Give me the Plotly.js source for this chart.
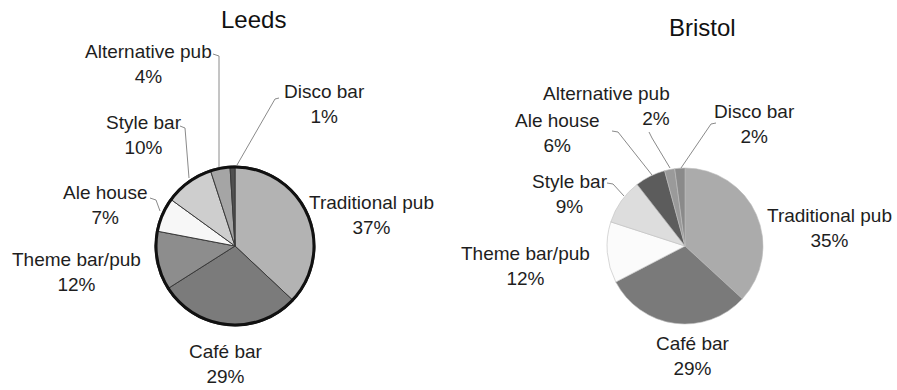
<!DOCTYPE html>
<html>
<head>
<meta charset="utf-8">
<script src="https://cdn.plot.ly/plotly-3.0.1.min.js"></script>
<style>html,body{margin:0;padding:0;background:#fff;}#chart{width:897px;height:390px;}</style>
</head>
<body>
<div id="chart"></div>
<script>
// ---- data ----
var leedsLabels = ['Traditional pub', 'Café bar', 'Theme bar/pub', 'Ale house', 'Style bar', 'Alternative pub', 'Disco bar'];
var leedsValues = [37, 29, 12, 7, 10, 4, 1];
var bristolLabels = ['Traditional pub', 'Café bar', 'Theme bar/pub', 'Style bar', 'Ale house', 'Alternative pub', 'Disco bar'];
var bristolValues = [35, 29, 12, 9, 6, 2, 2];
var cityTitles = ['Leeds', 'Bristol'];

// ---- styles ----
var leedsColors = ['#b3b3b3', '#7b7b7b', '#8d8d8d', '#f7f7f7', '#cecece', '#a5a5a5', '#505050'];
var bristolColors = ['#ababab', '#7a7a7a', '#fbfbfb', '#dddddd', '#5c5c5c', '#9a9a9a', '#8a8a8a'];

var W = 897, H = 390;
function px(x) { return x / W; }
function py(y) { return 1 - y / H; }

// label positions (pixel centres), same order as labels
var leedsLabelPos = [[371, 215], [226, 364], [76, 272], [105, 205], [144, 135], [148, 64], [324, 104]];
var bristolLabelPos = [[829, 228], [693, 356], [525, 266], [570, 194], [557, 133], [606, 106], [754, 124]];
var bristolAlign = ['center', 'center', 'center', 'center', 'center', 'right', 'center'];

// leader lines (pixel polylines)
var leaders = [
  [[213, 54], [219, 56], [219, 168]],
  [[279, 98], [275, 99], [237, 165]],
  [[180, 126], [185, 128], [189, 178]],
  [[150, 198], [156, 200], [160, 211]],
  [[612, 131], [618, 132], [652, 175]],
  [[649, 132], [652, 138], [670, 168]],
  [[716, 123], [711, 124], [681, 168]],
  [[607, 183], [613, 184], [624, 196]]
];

var data = [
  {
    type: 'pie', labels: leedsLabels, values: leedsValues, sort: false,
    direction: 'clockwise', rotation: 0, textinfo: 'none', hoverinfo: 'label+percent',
    marker: { colors: leedsColors, line: { color: '#3a3a3a', width: 1 } },
    domain: { x: [px(155), px(315)], y: [py(326), py(166)] },
    showlegend: false
  },
  {
    type: 'pie', labels: bristolLabels, values: bristolValues, sort: false,
    direction: 'clockwise', rotation: 0, textinfo: 'none', hoverinfo: 'label+percent',
    marker: { colors: bristolColors, line: { color: '#bdbdbd', width: 0.6 } },
    domain: { x: [px(607), px(763)], y: [py(324), py(168)] },
    showlegend: false
  }
];

var font = { family: 'Liberation Sans, Arial, sans-serif', size: 19, color: '#1e1e1e' };
var annotations = [];
leedsLabels.forEach(function (l, i) {
  annotations.push({
    xref: 'paper', yref: 'paper', x: px(leedsLabelPos[i][0]), y: py(leedsLabelPos[i][1]),
    xanchor: 'center', yanchor: 'middle', showarrow: false, align: 'center',
    text: l + '<br>' + leedsValues[i] + '%', font: font
  });
});
bristolLabels.forEach(function (l, i) {
  annotations.push({
    xref: 'paper', yref: 'paper', x: px(bristolLabelPos[i][0]), y: py(bristolLabelPos[i][1]),
    xanchor: 'center', yanchor: 'middle', showarrow: false, align: bristolAlign[i],
    text: l + '<br>' + bristolValues[i] + '%', font: font
  });
});
var titlePos = [[253, 19], [702, 28]];
cityTitles.forEach(function (t, i) {
  annotations.push({
    xref: 'paper', yref: 'paper', x: px(titlePos[i][0]), y: py(titlePos[i][1]),
    xanchor: 'center', yanchor: 'middle', showarrow: false,
    text: t, font: { family: 'Liberation Sans, Arial, sans-serif', size: 24, color: '#111' }
  });
});

var shapes = [];
leaders.forEach(function (pts) {
  var d = pts.map(function (p, k) { return (k ? 'L' : 'M') + px(p[0]) + ',' + py(p[1]); }).join(' ');
  shapes.push({ type: 'path', xref: 'paper', yref: 'paper', path: d, line: { color: '#8a8a8a', width: 1 } });
});
// thick outline round the Leeds pie
shapes.push({ type: 'circle', xref: 'paper', yref: 'paper',
  x0: px(156), x1: px(314), y0: py(325), y1: py(167),
  line: { color: '#111', width: 3 }, fillcolor: 'rgba(0,0,0,0)' });

var layout = {
  width: W, height: H,
  margin: { l: 0, r: 0, t: 0, b: 0 },
  paper_bgcolor: '#ffffff',
  annotations: annotations,
  shapes: shapes
};

Plotly.newPlot('chart', data, layout, { displayModeBar: false, staticPlot: true });
</script>
</body>
</html>
